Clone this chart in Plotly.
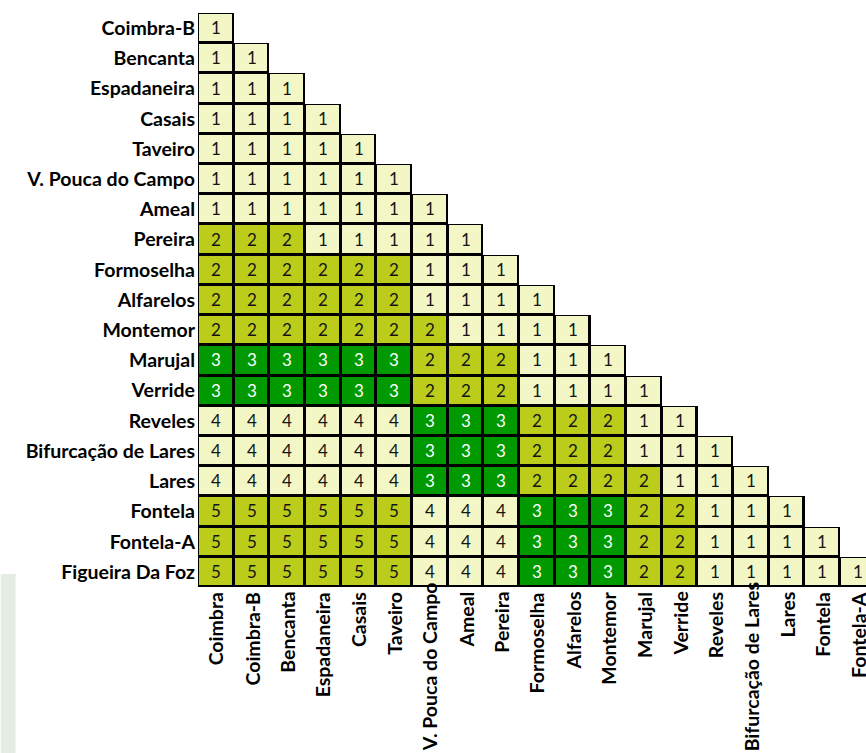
import plotly.graph_objects as go

# ---------------- data ----------------
col_labels = ["Coimbra", "Coimbra-B", "Bencanta", "Espadaneira", "Casais", "Taveiro",
              "V. Pouca do Campo", "Ameal", "Pereira", "Formoselha", "Alfarelos", "Montemor",
              "Marujal", "Verride", "Reveles", "Bifurcação de Lares", "Lares", "Fontela",
              "Fontela-A"]
row_labels = ["Coimbra-B", "Bencanta", "Espadaneira", "Casais", "Taveiro",
              "V. Pouca do Campo", "Ameal", "Pereira", "Formoselha", "Alfarelos", "Montemor",
              "Marujal", "Verride", "Reveles", "Bifurcação de Lares", "Lares", "Fontela",
              "Fontela-A", "Figueira Da Foz"]

zones_coimbra_b = [1]
zones_bencanta = [1, 1]
zones_espadaneira = [1, 1, 1]
zones_casais = [1, 1, 1, 1]
zones_taveiro = [1, 1, 1, 1, 1]
zones_v_pouca = [1, 1, 1, 1, 1, 1]
zones_ameal = [1, 1, 1, 1, 1, 1, 1]
zones_pereira = [2, 2, 2, 1, 1, 1, 1, 1]
zones_formoselha = [2, 2, 2, 2, 2, 2, 1, 1, 1]
zones_alfarelos = [2, 2, 2, 2, 2, 2, 1, 1, 1, 1]
zones_montemor = [2, 2, 2, 2, 2, 2, 2, 1, 1, 1, 1]
zones_marujal = [3, 3, 3, 3, 3, 3, 2, 2, 2, 1, 1, 1]
zones_verride = [3, 3, 3, 3, 3, 3, 2, 2, 2, 1, 1, 1, 1]
zones_reveles = [4, 4, 4, 4, 4, 4, 3, 3, 3, 2, 2, 2, 1, 1]
zones_bifurcacao = [4, 4, 4, 4, 4, 4, 3, 3, 3, 2, 2, 2, 1, 1, 1]
zones_lares = [4, 4, 4, 4, 4, 4, 3, 3, 3, 2, 2, 2, 2, 1, 1, 1]
zones_fontela = [5, 5, 5, 5, 5, 5, 4, 4, 4, 3, 3, 3, 2, 2, 1, 1, 1]
zones_fontela_a = [5, 5, 5, 5, 5, 5, 4, 4, 4, 3, 3, 3, 2, 2, 1, 1, 1, 1]
zones_figueira = [5, 5, 5, 5, 5, 5, 4, 4, 4, 3, 3, 3, 2, 2, 1, 1, 1, 1, 1]

zone_rows = [zones_coimbra_b, zones_bencanta, zones_espadaneira, zones_casais,
             zones_taveiro, zones_v_pouca, zones_ameal, zones_pereira, zones_formoselha,
             zones_alfarelos, zones_montemor, zones_marujal, zones_verride, zones_reveles,
             zones_bifurcacao, zones_lares, zones_fontela, zones_fontela_a, zones_figueira]

# ---------------- styling ----------------
LIGHT = "#F3F7C6"
OLIVE = "#BCCC1A"
GREEN = "#009A00"
FONT = "Lato"
LABEL_SIZE = 19.5
NUM_SIZE = 17

n = len(col_labels)


def pad(r):
    return list(r) + [None] * (n - len(r))


z_all = [pad(r) for r in zone_rows]
z_black_text = [[v if (v is not None and v != 3) else None for v in r] for r in z_all]
z_white_text = [[v if v == 3 else None for v in r] for r in z_all]
z_under = [[1 if v is not None else None for v in r] for r in z_all]

colorscale = [[0.0, LIGHT], [0.2, LIGHT], [0.2, OLIVE], [0.4, OLIVE],
              [0.4, GREEN], [0.6, GREEN], [0.6, LIGHT], [0.8, LIGHT],
              [0.8, OLIVE], [1.0, OLIVE]]

fig = go.Figure()
fig.add_trace(go.Heatmap(z=z_under, x=col_labels, y=row_labels,
                         colorscale=[[0, "black"], [1, "black"]], showscale=False,
                         hoverinfo="skip"))
for zz, tc in ((z_black_text, "#151515"), (z_white_text, "white")):
    fig.add_trace(go.Heatmap(z=zz, x=col_labels, y=row_labels, zmin=0.5, zmax=5.5,
                             colorscale=colorscale, showscale=False, xgap=3, ygap=3,
                             texttemplate="%{z}",
                             textfont=dict(family=FONT, size=NUM_SIZE, color=tc),
                             hoverinfo="skip"))

# ---------------- layout geometry ----------------
W, H = 866, 753
ML, MT, MB, MR = 197.5, 12.7, 166.0, 0
plot_w = W - ML - MR
plot_h = H - MT - MB
cell_w = 35.7
x_units = plot_w / cell_w

# x labels (rotated), long ones pushed up so they fit in the page
annotations = []
for c in col_labels:
    long_label = len(c) > 16
    annotations.append(dict(
        x=c, xref="x", yref="paper",
        y=(-MB / plot_h) if long_label else 0,
        yanchor="bottom" if long_label else "top",
        yshift=0 if long_label else -3,
        xanchor="center", textangle=-90, showarrow=False, text=c,
        font=dict(family=FONT, size=LABEL_SIZE, color="black", weight="bold")))

shapes = [dict(type="rect", xref="paper", yref="paper", layer="below",
               x0=(0 - ML) / plot_w, x1=(15 - ML) / plot_w,
               y0=-MB / plot_h, y1=(H - MB - 574) / plot_h,
               fillcolor="#E4ECE4", line=dict(width=0))]

fig.update_layout(
    width=W, height=H, autosize=False,
    margin=dict(l=ML, r=MR, t=MT, b=MB, pad=0),
    paper_bgcolor="white", plot_bgcolor="white",
    xaxis=dict(range=[-0.5, -0.5 + x_units], showticklabels=False, showgrid=False,
               zeroline=False, ticks="", fixedrange=True, automargin=False),
    yaxis=dict(range=[n - 0.5, -0.5], showgrid=False, zeroline=False, ticks="",
               ticklabelstandoff=2, automargin=False,
               tickfont=dict(family=FONT, size=LABEL_SIZE, color="black", weight="bold")),
    annotations=annotations, shapes=shapes, showlegend=False,
)

fig.write_html("out.html", config={"displayModeBar": False},
               post_script="document.body.style.margin='0';document.body.style.overflow='hidden';")
